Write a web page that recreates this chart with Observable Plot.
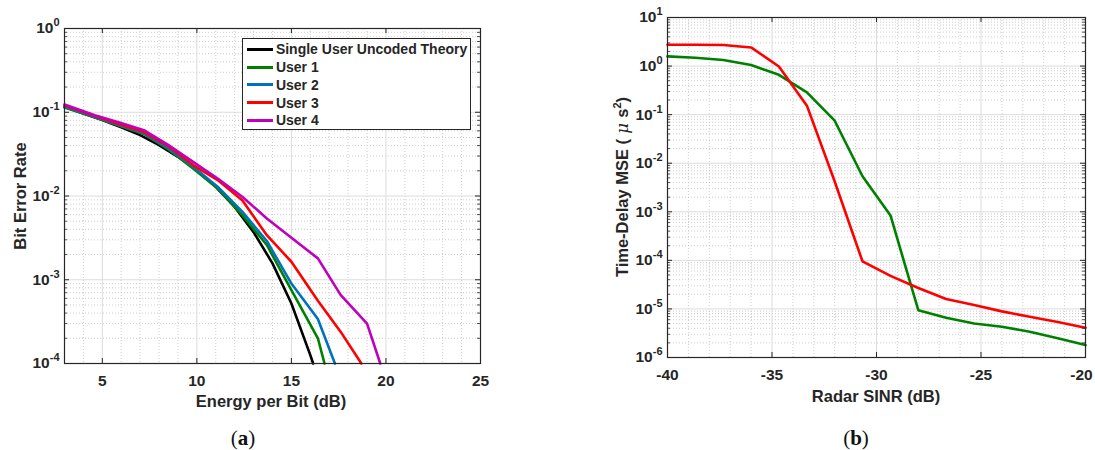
<!DOCTYPE html>
<html><head><meta charset="utf-8">
<script src="https://cdn.jsdelivr.net/npm/d3@7"></script>
<script src="https://cdn.jsdelivr.net/npm/@observablehq/plot@0.6"></script>
<style>
body{margin:0;background:#fff;}
#wrap{position:relative;width:1095px;height:450px;font-family:"Liberation Sans",Arial,sans-serif;color:#262626;overflow:hidden;background:#fff}
.panel{position:absolute;top:0}
.panel svg g[aria-label$="tick label"] text{font-size:15.5px;font-weight:bold;font-family:"Liberation Sans",Arial,sans-serif}
.lbl{position:absolute;font-weight:bold;font-size:16.5px;white-space:nowrap;transform:translate(-50%,-50%);line-height:1}
.ylbl{transform:translate(-50%,-50%) rotate(-90deg)}
.cap{position:absolute;font-family:"Liberation Serif","DejaVu Serif",serif;font-size:21px;transform:translate(-50%,-50%);line-height:1;color:#111}
#legend{position:absolute;left:242px;top:38px;width:229px;height:92px;box-sizing:border-box;border:1px solid #262626;background:#fff}
.row{position:absolute;left:0;height:17.6px;display:flex;align-items:center;font-weight:bold;font-size:14px;white-space:nowrap}
.sw{display:inline-block;width:26.6px;height:3px;margin-left:3.7px;margin-right:2.6px}
</style></head><body><div id="wrap"></div>
<script>
// ---------- Panel (a) data ----------
const aXTicks = [5, 10, 15, 20, 25];
const aYTicks = [1e-4, 1e-3, 1e-2, 1e-1, 1];
const theoryX = [3, 4, 5, 6, 7, 8, 9, 10, 11, 12, 13, 14, 15, 16, 16.15];
const theoryY = [0.116, 0.0966, 0.0805, 0.066, 0.0533, 0.0406, 0.0294, 0.0203, 0.0129, 0.0074, 0.0037, 0.00157, 5.2e-4, 1.26e-4, 1e-4];
const user1X = [3.0, 4.6, 5.9, 7.2, 8.5, 9.8, 11.1, 12.4, 13.7, 15.0, 16.4, 16.75];
const user1Y = [0.114, 0.087, 0.069, 0.055, 0.036, 0.0213, 0.0123, 0.0059, 0.0026, 7.5e-4, 2.0e-4, 1e-4];
const user2X = [3.0, 4.6, 5.9, 7.2, 8.5, 9.8, 11.1, 12.4, 13.7, 15.0, 16.4, 17.3];
const user2Y = [0.116, 0.088, 0.070, 0.056, 0.037, 0.0223, 0.0129, 0.0065, 0.0029, 9.0e-4, 3.4e-4, 1e-4];
const user3X = [3.0, 4.6, 5.9, 7.2, 8.5, 9.8, 11.1, 12.4, 13.7, 15.0, 16.4, 17.6, 18.7];
const user3Y = [0.120, 0.090, 0.072, 0.058, 0.039, 0.0234, 0.0155, 0.0089, 0.0034, 1.64e-3, 5.6e-4, 2.4e-4, 1e-4];
const user4X = [3.0, 4.6, 5.9, 7.2, 8.5, 9.8, 11.1, 12.4, 13.7, 15.0, 16.4, 17.6, 19.0, 19.7];
const user4Y = [0.124, 0.092, 0.0755, 0.061, 0.0405, 0.0256, 0.0162, 0.0098, 0.0054, 3.17e-3, 1.8e-3, 6.6e-4, 3.0e-4, 1e-4];
const aNames = ["Single User Uncoded Theory", "User 1", "User 2", "User 3", "User 4"];
const aColors = ["#000000", "#008000", "#0072BD", "#FF0000", "#BF00BF"];

// ---------- Panel (b) data ----------
const bXTicks = [-40, -35, -30, -25, -20];
const bYTicks = [1e-6, 1e-5, 1e-4, 1e-3, 1e-2, 1e-1, 1, 10];
const sinrX = [-40, -38.67, -37.33, -36, -34.67, -33.33, -32, -30.67, -29.33, -28, -26.67, -25.33, -24, -22.67, -21.33, -20];
const redMSE = [2.74, 2.74, 2.72, 2.42, 0.98, 0.153, 0.0042, 9.5e-5, 4.8e-5, 2.7e-5, 1.6e-5, 1.2e-5, 8.9e-6, 6.9e-6, 5.4e-6, 4.1e-6];
const greenMSE = [1.58, 1.48, 1.33, 1.05, 0.66, 0.288, 0.075, 0.0054, 8.4e-4, 9.4e-6, 6.6e-6, 5.0e-6, 4.3e-6, 3.4e-6, 2.5e-6, 1.8e-6];
const bColors = ["#FF0000", "#008000"];

// helpers
const minorLog = (majors) => majors.slice(0, -1).flatMap(m => [2,3,4,5,6,7,8,9].map(k => m * k));
const minorLin = (lo, hi) => d3.range(lo, hi + 1).filter(v => v % 5 !== 0);
const zip = (xs, ys) => xs.map((x, i) => ({x, y: ys[i]}));

function panel({width, height, ml, mr, mt, mb, xDomain, yDomain, xTicks, yTicks, xMinor, series}) {
  const pw = width - ml - mr, ph = height - mt - mb;
  const yMinor = minorLog(yTicks);
  const ink = "#262626";
  const marks = [
    Plot.ruleX(xMinor, {stroke: "#c2c2c2", strokeDasharray: "1,2", strokeWidth: 0.8}),
    Plot.ruleY(yMinor, {stroke: "#c2c2c2", strokeDasharray: "1,2", strokeWidth: 0.8}),
    Plot.ruleX(xTicks, {stroke: "#dcdcdc", strokeWidth: 1}),
    Plot.ruleY(yTicks, {stroke: "#dcdcdc", strokeWidth: 1}),
    ...series.map(s => Plot.line(s.rows, {x: "x", y: "y", stroke: s.color, strokeWidth: 2.6})),
    Plot.frame({stroke: ink, strokeWidth: 1.2}),
    Plot.tickX(xTicks, {x: d => d, insetTop: ph - 5, stroke: ink}),
    Plot.tickX(xTicks, {x: d => d, insetBottom: ph - 5, stroke: ink}),
    Plot.tickY(yTicks, {y: d => d, insetRight: pw - 5, stroke: ink}),
    Plot.tickY(yTicks, {y: d => d, insetLeft: pw - 5, stroke: ink}),
    Plot.tickY(yMinor, {y: d => d, insetRight: pw - 3, stroke: ink, strokeWidth: 0.8}),
    Plot.tickY(yMinor, {y: d => d, insetLeft: pw - 3, stroke: ink, strokeWidth: 0.8})
  ];
  const svg = Plot.plot({
    width, height, marginLeft: ml, marginRight: mr, marginTop: mt, marginBottom: mb,
    style: {fontFamily: "Liberation Sans, Arial, sans-serif", fontSize: "15.5px", fontWeight: "bold", color: ink, background: "transparent", overflow: "visible"},
    x: {domain: xDomain, ticks: xTicks, tickSize: 0, tickPadding: 11, tickFormat: d => String(d), label: null},
    y: {type: "log", domain: yDomain, ticks: yTicks, tickSize: 0, tickPadding: 5, tickFormat: d => String(Math.round(Math.log10(d))), label: null},
    marks
  });
  svg.querySelectorAll('g[aria-label="y-axis tick label"] text').forEach(t => {
    const e = t.textContent;
    t.textContent = "10";
    const ts = document.createElementNS("http://www.w3.org/2000/svg", "tspan");
    ts.setAttribute("dy", "-7");
    ts.style.fontSize = "11px";
    ts.textContent = e;
    t.appendChild(ts);
  });
  return svg;
}

const wrap = document.getElementById("wrap");

const aSeries = [
  {rows: zip(theoryX, theoryY), color: aColors[0]},
  {rows: zip(user1X, user1Y), color: aColors[1]},
  {rows: zip(user2X, user2Y), color: aColors[2]},
  {rows: zip(user3X, user3Y), color: aColors[3]},
  {rows: zip(user4X, user4Y), color: aColors[4]}
];
const svgA = panel({width: 490, height: 450, ml: 64, mr: 10, mt: 28, mb: 87,
  xDomain: [3, 25], yDomain: [1e-4, 1], xTicks: aXTicks, yTicks: aYTicks, xMinor: minorLin(3, 25), series: aSeries});
const pA = document.createElement("div"); pA.className = "panel"; pA.style.left = "0px"; pA.appendChild(svgA); wrap.appendChild(pA);

const bSeries = [
  {rows: zip(sinrX, greenMSE), color: bColors[1]},
  {rows: zip(sinrX, redMSE), color: bColors[0]}
];
const svgB = panel({width: 495, height: 450, ml: 67, mr: 10, mt: 17, mb: 93,
  xDomain: [-40, -20], yDomain: [1e-6, 10], xTicks: bXTicks, yTicks: bYTicks, xMinor: minorLin(-40, -20), series: bSeries});
// keep the right-most tick label inside the page edge
const bxLabels = svgB.querySelectorAll('g[aria-label="x-axis tick label"] text');
if (bxLabels.length) bxLabels[bxLabels.length - 1].setAttribute("dx", "-4");
const pB = document.createElement("div"); pB.className = "panel"; pB.style.left = "600px"; pB.appendChild(svgB); wrap.appendChild(pB);

// legend (panel a)
const leg = document.createElement("div"); leg.id = "legend";
aNames.forEach((n, i) => {
  const r = document.createElement("div"); r.className = "row"; r.style.top = (1.5 + i * 17.75) + "px";
  const sw = document.createElement("span"); sw.className = "sw"; sw.style.background = aColors[i];
  const tx = document.createElement("span"); tx.textContent = n;
  r.appendChild(sw); r.appendChild(tx); leg.appendChild(r);
});
wrap.appendChild(leg);

// labels
function label(html, x, y, cls) {
  const d = document.createElement("div"); d.className = cls; d.innerHTML = html;
  d.style.left = x + "px"; d.style.top = y + "px"; wrap.appendChild(d);
}
label("Bit Error Rate", 20, 196, "lbl ylbl");
label("Energy per Bit (dB)", 271, 401, "lbl");
label("Time-Delay MSE (<span style=\"font-family:'DejaVu Serif',serif;font-style:italic;font-weight:normal\">&nbsp;μ&nbsp;</span>s<sup style=\"font-size:11px;vertical-align:7px\">2</sup>)", 622, 187, "lbl ylbl");
label("Radar SINR (dB)", 876, 396, "lbl");
label("(<b>a</b>)", 243, 438, "cap");
label("(<b>b</b>)", 856, 438, "cap");
</script></body></html>
